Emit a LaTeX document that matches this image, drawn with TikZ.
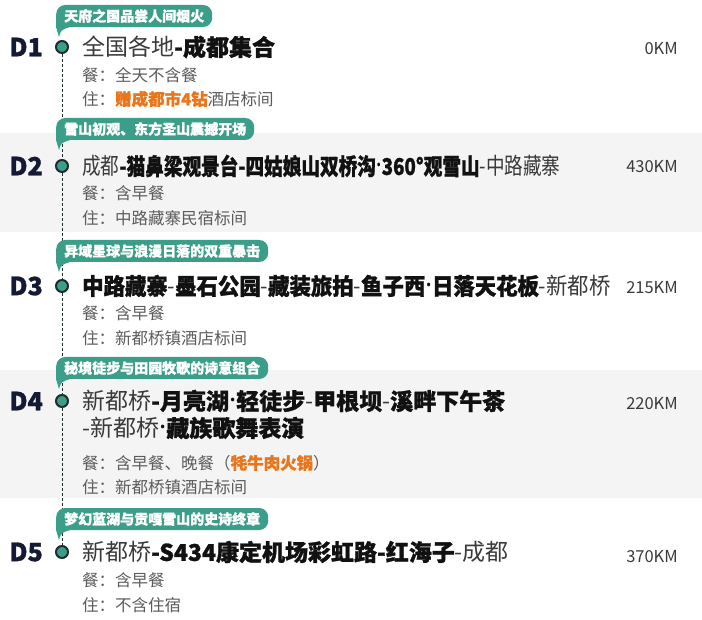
\documentclass[tikz,border=0pt]{standalone}
\usepackage{fontspec}
\setmainfont{Noto Sans CJK SC}[BoldFeatures={FakeBold=1.2}]
\newfontfamily\latinfont{Noto Sans}[BoldFeatures={FakeBold=2.5}]
\usetikzlibrary{positioning}

\definecolor{tagc}{HTML}{3B9E88}
\definecolor{bandc}{HTML}{F4F4F4}
\definecolor{dayc}{HTML}{141A33}
\definecolor{txtc}{HTML}{3A3A3A}
\definecolor{boldc}{HTML}{111111}
\definecolor{subc}{HTML}{5C5C5C}
\definecolor{hotc}{HTML}{E8761C}
\definecolor{dotc}{HTML}{1F2D2D}

\newcommand{\bd}[1]{{\bfseries\color{boldc}#1}}
\newcommand{\hot}[1]{{\bfseries\color{hotc}#1}}
\newcommand{\md}{{\latinfont\bfseries\fontsize{27}{27}\selectfont\color{boldc}·}}
% tail of a tag bubble, hanging from its left edge down to the stop
\newcommand{\tagtail}[1]{\fill[tagc] (#1) -- ([yshift=-11pt]#1)
  -- ([xshift=3pt,yshift=-21pt]#1)
  .. controls ([xshift=5pt,yshift=-14pt]#1) .. ([xshift=14pt,yshift=-11pt]#1)
  -- ([xshift=14pt]#1) -- cycle;}

\tikzset{
  daylabel/.style={anchor=east, inner sep=0pt, text=dayc,
    font=\fontsize{25}{25}\selectfont\bfseries},
  stopdot/.style={circle, fill=tagc, draw=dotc, line width=2pt,
    minimum size=12pt, inner sep=0pt},
  ttl/.style={anchor=west, inner sep=0pt, text=txtc,
    font=\fontsize{23}{23}\selectfont},
  subline/.style={anchor=west, inner sep=0pt, text=subc,
    font=\fontsize{16.5}{16.5}\selectfont},
  kmlabel/.style={anchor=east, inner sep=0pt, text=txtc,
    font=\fontsize{16.5}{16.5}\selectfont},
  tagbox/.style={anchor=west, fill=tagc, rounded corners=9pt, text=white,
    font=\fontsize{14}{14}\selectfont\bfseries, minimum height=22pt,
    inner xsep=8pt, inner ysep=0pt},
  trail/.style={dotc, line width=1pt, dash pattern=on 3pt off 2pt}
}

\begin{document}
\begin{tikzpicture}[x=1pt,y=-1pt]
  \useasboundingbox (0,0) rectangle (702,620);
  \fill[bandc] (0,133) rectangle (702,232);
  \fill[bandc] (0,370) rectangle (702,498);

  % stops on the trail
  \node[stopdot] (s1) at (62,47)  {};
  \node[stopdot] (s2) at (62,166) {};
  \node[stopdot] (s3) at (62,286) {};
  \node[stopdot] (s4) at (62,401) {};
  \node[stopdot] (s5) at (62,552) {};
  \draw[trail] (s1) -- (s2) (s2) -- (s3) (s3) -- (s4) (s4) -- (s5);

  % D1
  \coordinate (a1) at (56,16);
  \tagtail{a1}
  \node[tagbox] (g1) at (a1) {天府之国品尝人间烟火};
  \node[daylabel] (d1) at (43,47) {D1};
  \node[ttl] (t1) at (82,47) {全国各地\bd{-成都集合}};
  \node[subline] (m1) at (82,75) {餐：全天不含餐};
  \node[subline] (h1) at (82,99) {住：\hot{赠成都市4钻}酒店标间};
  \node[kmlabel] (k1) at (678,49) {0KM};

  % D2
  \coordinate (a2) at (56,129);
  \tagtail{a2}
  \node[tagbox] (g2) at (a2) {雪山初观、东方圣山震撼开场};
  \node[daylabel] (d2) at (43,166) {D2};
  \node[ttl] (t2) at (82,166) {\scalebox{0.81}[1]{成都\bd{-猫鼻梁观景台-四姑娘山双桥沟}\md\bd{360°观雪山}-中路藏寨}};
  \node[subline] (m2) at (82,193) {餐：含早餐};
  \node[subline] (h2) at (82,218) {住：中路藏寨民宿标间};
  \node[kmlabel] (k2) at (678,167) {430KM};

  % D3
  \coordinate (a3) at (56,251);
  \tagtail{a3}
  \node[tagbox] (g3) at (a3) {异域星球与浪漫日落的双重暴击};
  \node[daylabel] (d3) at (43,286) {D3};
  \node[ttl] (t3) at (82,286) {\scalebox{0.93}[1]{\bd{中路藏寨}-\bd{墨石公园}-\bd{藏装旅拍}-\bd{鱼子西}\md\bd{日落天花板}-新都桥}};
  \node[subline] (m3) at (82,313) {餐：含早餐};
  \node[subline] (h3) at (82,338) {住：新都桥镇酒店标间};
  \node[kmlabel] (k3) at (678,288) {215KM};

  % D4
  \coordinate (a4) at (56,368);
  \tagtail{a4}
  \node[tagbox] (g4) at (a4) {秘境徒步与田园牧歌的诗意组合};
  \node[daylabel] (d4) at (43,401) {D4};
  \node[ttl] (t4) at (82,401) {新都桥\bd{-月亮湖}\md\bd{轻徒步}-\bd{甲根坝}-\bd{溪畔下午茶}};
  \node[ttl] (t4b) at (82,428) {-新都桥\md\bd{藏族歌舞表演}};
  \node[subline] (m4) at (82,463) {餐：含早餐、晚餐（\hot{牦牛肉火锅}）};
  \node[subline] (h4) at (82,487) {住：新都桥镇酒店标间};
  \node[kmlabel] (k4) at (678,404) {220KM};

  % D5
  \coordinate (a5) at (56,519);
  \tagtail{a5}
  \node[tagbox] (g5) at (a5) {梦幻蓝湖与贡嘎雪山的史诗终章};
  \node[daylabel] (d5) at (43,552) {D5};
  \node[ttl] (t5) at (82,552) {新都桥\bd{-S434康定机场彩虹路-红海子}-成都};
  \node[subline] (m5) at (82,580) {餐：含早餐};
  \node[subline] (h5) at (82,605) {住：不含住宿};
  \node[kmlabel] (k5) at (678,557) {370KM};
\end{tikzpicture}
\end{document}
